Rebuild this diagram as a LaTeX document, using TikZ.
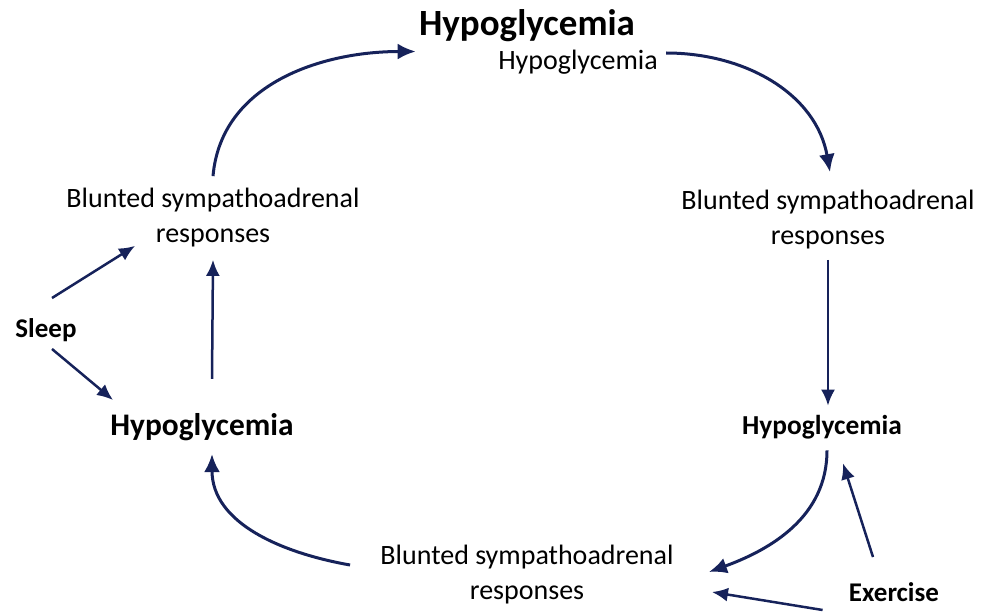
\documentclass[tikz,border=0pt]{standalone}
\usepackage{fontspec}
\setmainfont{Carlito}
\usetikzlibrary{arrows.meta,positioning}
\definecolor{navy}{RGB}{22,34,90}

\begin{document}
\begin{tikzpicture} [
    x = 0.5pt, y = 0.5pt,
    every node/.style = {inner sep = 0, align = center},
    txt/.style = {font = \fontsize{14}{17.5}\selectfont},
    hypo/.style = {font = \bfseries\fontsize{#1}{#1}\selectfont},
    loop arrow/.style = {draw = navy, line width = 1.5pt, -{Latex[length=9pt,width=8pt]}},
    side arrow/.style = {draw = navy, line width = 1.25pt, -{Latex[length=8pt,width=7pt]}}
    ]

    \useasboundingbox (0,0) rectangle (985,612);

    \node [hypo=18.5] (hypoTop) at (527,586) {Hypoglycemia};
    \node [txt] (hypoSub) at (578,550) {Hypoglycemia};
    \node [txt] (bluntR) at (828,392) {Blunted sympathoadrenal\\responses};
    \node [hypo=13.7] (hypoR) at (822,185) {Hypoglycemia};
    \node [txt] (bluntB) at (527,37) {Blunted sympathoadrenal\\responses};
    \node [hypo=15.7] (hypoL) at (202,185) {Hypoglycemia};
    \node [txt] (bluntL) at (213,394) {Blunted sympathoadrenal\\responses};
    \node [hypo=13.5] (sleep) at (46,282) {Sleep};
    \node [hypo=13.5] (exer) at (894,20) {Exercise};

    % the loop
    \draw [loop arrow] ([yshift=6pt]bluntL.north) to [out=85, in=180] ([xshift=-1.5pt,yshift=-4.5pt]hypoTop.south west);
    \draw [loop arrow] ([xshift=4pt,yshift=4.5pt]hypoSub.east) to [out=0, in=100] ([xshift=1pt,yshift=9pt]bluntR.north);
    \draw [side arrow] ([yshift=-5pt]bluntR.south) -- ([xshift=3pt,yshift=4.5pt]hypoR.north);
    \draw [loop arrow] ([xshift=2.5pt,yshift=-5.5pt]hypoR.south) to [out=-90, in=20] ([xshift=17.5pt,yshift=1.5pt]bluntB.east);
    \draw [loop arrow] ([xshift=-15pt,yshift=5pt]bluntB.west) to [out=170, in=-90] ([xshift=5pt,yshift=-6.5pt]hypoL.south);
    \draw [side arrow] ([xshift=5pt,yshift=17pt]hypoL.north) -- ([yshift=-6pt]bluntL.south);

    % outside factors
    \draw [side arrow] ([xshift=3pt,yshift=10pt]sleep.north) -- ([xshift=34.5pt,yshift=1pt]bluntL.south west);
    \draw [side arrow] ([xshift=3pt,yshift=-3.5pt]sleep.south) -- ([xshift=1.5pt,yshift=13.5pt]hypoL.west);
    \draw [side arrow] ([xshift=-10.5pt,yshift=12.5pt]exer.north) -- ([xshift=10.5pt,yshift=-12pt]hypoR.south);
    \draw [side arrow] ([xshift=-13pt,yshift=-9pt]exer.west) -- ([xshift=19pt,yshift=-8.5pt]bluntB.east);

\end{tikzpicture}
\end{document}
